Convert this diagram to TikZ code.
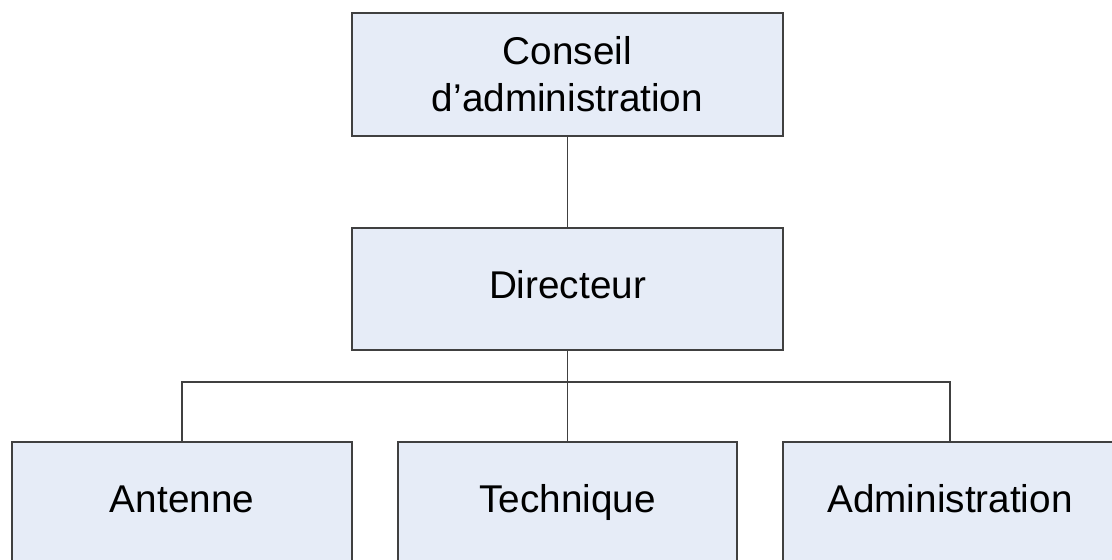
\documentclass[tikz,border=0pt]{standalone}
\usepackage{fontspec}
\setmainfont{Liberation Sans}
\usepackage{tikz}
\usetikzlibrary{positioning}
\definecolor{boxfill}{RGB}{230,236,247}
\definecolor{boxline}{RGB}{64,64,64}
\tikzset{
	orgbox/.style={draw=boxline, fill=boxfill, line width=0.75pt, align=center,
		font=\fontsize{19.35}{23.5}\selectfont, inner sep=0pt},
	onebox/.style={orgbox, text height=13.9pt, text depth=4pt},
	orgline/.style={draw=boxline, line width=0.75pt}
}

\begin{document}
\begin{tikzpicture}[x=0.5pt,y=-0.5pt]
	\useasboundingbox (0,0) rectangle (1112,559);
	\node[orgbox, minimum width=215.5pt, minimum height=61.5pt] (ca) at (567.5,74.5) {Conseil\\d’administration};
	\node[onebox, minimum width=215.5pt, minimum height=61pt] (dir) at (567.5,289) {Directeur};
	\node[onebox, minimum width=170pt, minimum height=61pt] (ant) at (182,503) {Antenne};
	\node[onebox, minimum width=169.5pt, minimum height=61pt] (tech) at (567.5,503) {Technique};
	\node[onebox, minimum width=167pt, minimum height=61pt] (adm) at (950,503) {Administration};
	\coordinate (bus) at (567.5,382);
	\draw[orgline] (ca) -- (dir);
	\draw[orgline] (dir.south) -- (bus) -- (tech.north);
	\draw[orgline] (ant.north) |- (bus) -| (adm.north);
\end{tikzpicture}
\end{document}
